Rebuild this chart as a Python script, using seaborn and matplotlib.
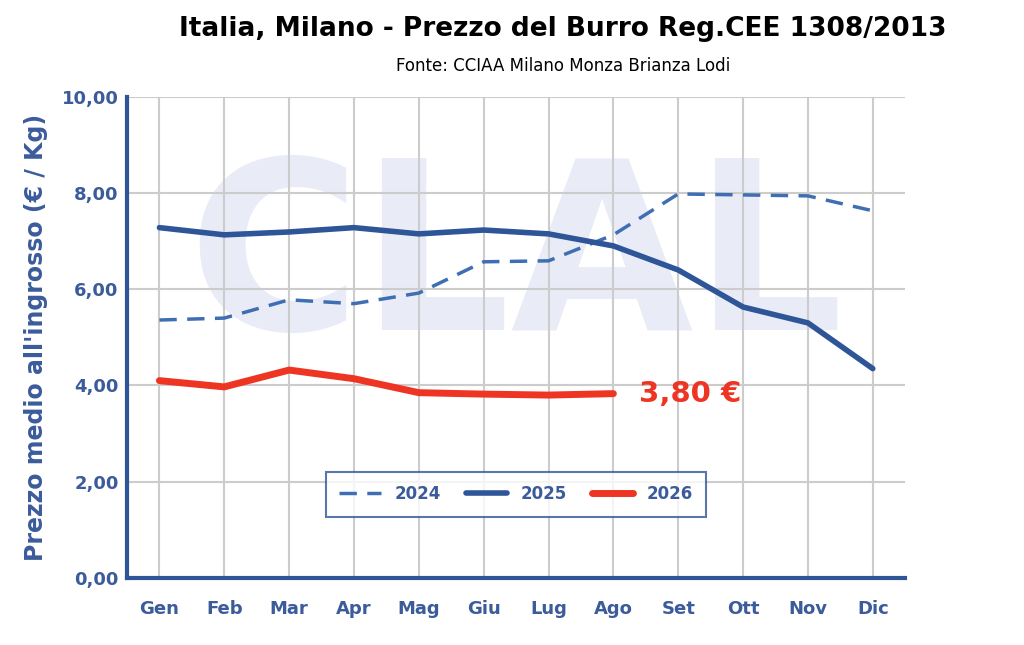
import matplotlib
matplotlib.use("Agg")
import matplotlib.pyplot as plt
import seaborn as sns
import pandas as pd

months = ["Gen","Feb","Mar","Apr","Mag","Giu","Lug","Ago","Set","Ott","Nov","Dic"]
v2024 = [5.36,5.40,5.78,5.70,5.92,6.57,6.59,7.13,7.98,7.96,7.94,7.63]
v2025 = [7.28,7.13,7.19,7.28,7.15,7.23,7.15,6.90,6.40,5.63,5.30,4.35]
v2026 = [4.10,3.97,4.32,4.14,3.85,3.82,3.80,3.83]

sns.set_theme(style="white")
plt.rcParams['font.family'] = ['DejaVu Sans']
fig = plt.figure(figsize=(10.24,6.45), dpi=100)
ax = fig.add_axes([0.124, 0.104, 0.76, 0.746])

blue = "#2e5597"
dblue = "#3f6eb3"
red = "#ee3524"
tick_c = "#3b5b9b"

ax.text(5.5, 6.5, "CLAL", ha="center", va="center", fontsize=170, fontweight="bold",
        color="#e9ecf7", zorder=0)

df = pd.DataFrame({"x": list(range(12))*2 + list(range(8)),
                   "y": v2024 + v2025 + v2026,
                   "s": ["2024"]*12 + ["2025"]*12 + ["2026"]*8})
sns.lineplot(data=df[df.s=="2024"], x="x", y="y", ax=ax, color=dblue, lw=2.5, ls=(0,(5,3)), label="2024")
sns.lineplot(data=df[df.s=="2025"], x="x", y="y", ax=ax, color=blue, lw=4, label="2025")
sns.lineplot(data=df[df.s=="2026"], x="x", y="y", ax=ax, color=red, lw=5, label="2026")

ax.text(7.4, v2026[-1], "3,80 €", color=red, fontsize=21, fontweight="bold", va="center", ha="left")

ax.set_xlim(-0.5, 11.5)
ax.set_ylim(0, 10)
ax.set_xticks(range(12))
ax.set_xticklabels(months)
ax.set_yticks([0,2,4,6,8,10])
ax.set_yticklabels(["0,00","2,00","4,00","6,00","8,00","10,00"])
for t in ax.get_xticklabels()+ax.get_yticklabels():
    t.set_color(tick_c); t.set_fontweight("bold"); t.set_fontsize(13)
ax.tick_params(axis="x", pad=16, length=0)
ax.tick_params(axis="y", length=0, pad=6)
ax.grid(True, color="#cccccc", lw=1.5)
ax.set_axisbelow(True)
for s in ["top","right"]:
    ax.spines[s].set_visible(False)
for s in ["left","bottom"]:
    ax.spines[s].set_color(blue); ax.spines[s].set_linewidth(3)
ax.set_xlabel("")
ax.set_ylabel("Prezzo medio all'ingrosso (€ / Kg)", color=tick_c, fontsize=17, fontweight="bold", labelpad=10)

leg = ax.legend(loc="lower center", bbox_to_anchor=(0.5, 0.11), ncol=3, frameon=True, fancybox=False,
                fontsize=12, handlelength=2.5, borderpad=0.8, columnspacing=1.5)
leg.get_frame().set_edgecolor(blue); leg.get_frame().set_linewidth(1.5)
for t in leg.get_texts():
    t.set_color(tick_c); t.set_fontweight("bold")

fig.text(0.55, 0.955, "Italia, Milano - Prezzo del Burro Reg.CEE 1308/2013", ha="center", va="center",
         fontsize=19, fontweight="bold", color="black")
fig.text(0.55, 0.898, "Fonte: CCIAA Milano Monza Brianza Lodi", ha="center", va="center", fontsize=12, color="black")
fig.savefig("out.png", dpi=100)
